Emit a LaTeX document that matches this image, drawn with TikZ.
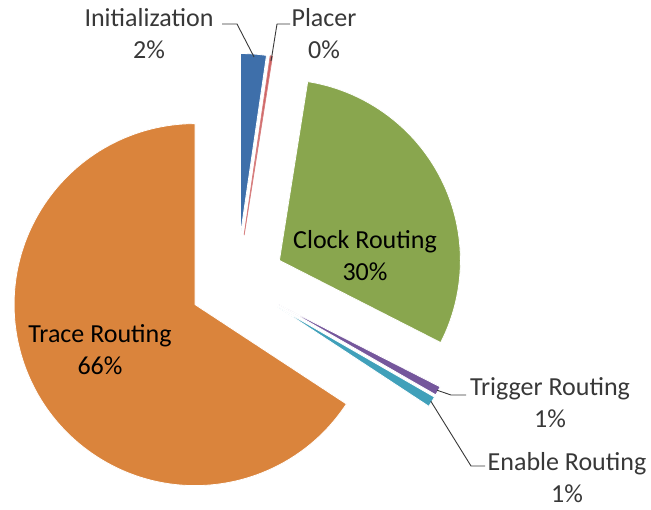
\documentclass[tikz,border=0pt]{standalone}
\usepackage{fontspec}
\setmainfont{Carlito}
\usetikzlibrary{calc}

\definecolor{initcol}{RGB}{62,111,170}
\definecolor{placecol}{RGB}{205,95,95}
\definecolor{clockcol}{RGB}{137,166,78}
\definecolor{trigcol}{RGB}{117,87,156}
\definecolor{enabcol}{RGB}{64,160,186}
\definecolor{tracecol}{RGB}{218,132,60}
\definecolor{labelgray}{RGB}{56,56,56}

\def\pieR{181pt}
\def\pieD{47.6pt}

% one exploded wedge: start fraction, end fraction (clockwise from 12 o'clock),
% fill colour, border colour, name of its apex
\newcommand\pieslice[5]{%
  \pgfmathsetmacro\sa{90-360*#1}%
  \pgfmathsetmacro\ea{90-360*#2}%
  \pgfmathsetmacro\ma{90-180*(#1+#2)}%
  \coordinate (#5) at ($(C)+(\ma:\pieD)$);
  \filldraw[fill=#3, draw=#4, line width=0.8pt, line join=round]
    (#5) -- ++(\sa:\pieR) arc[start angle=\sa, end angle=\ea, radius=\pieR] -- cycle;
}

\tikzset{
  pielabel/.style={align=center, font=\fontsize{26}{32}\selectfont, inner sep=0pt},
  outlabel/.style={pielabel, text=labelgray},
  leader/.style={draw=labelgray, line width=0.9pt, line join=round},
}

\begin{document}
\begin{tikzpicture}[x=1pt,y=1pt]
  \useasboundingbox (0,0) rectangle (651,-510);
  \coordinate (C) at (237,-282);

  % wedges
  \pieslice{0}{0.023}{initcol}{white}{ini}
  \pieslice{0.023}{0.025}{placecol}{placecol!80!white}{plc}
  \pieslice{0.025}{0.325}{clockcol}{white}{clk}
  \pieslice{0.325}{0.333}{trigcol}{white}{trg}
  \pieslice{0.333}{0.3425}{enabcol}{white}{enb}
  \pieslice{0.3425}{1}{tracecol}{white}{trc}

  % points where the leader lines touch the wedges
  \coordinate (initip) at ($(ini)+(85.6:178pt)$);
  \coordinate (plctip) at ($(plc)+(81.2:176pt)$);
  \coordinate (trgtip) at ($(trg)+(-28.4:180pt)$);
  \coordinate (enbtip) at ($(enb)+(-31.6:180pt)$);

  % labels
  \node[outlabel] (linit) at (149,-34) {Initialization\\2\%};
  \node[outlabel] (lplc) at (324,-34) {Placer\\0\%};
  \node[pielabel] (lclk) at (365,-256) {Clock Routing\\30\%};
  \node[pielabel] (ltrc) at (100,-350) {Trace Routing\\66\%};
  \node[outlabel] (ltrg) at (550,-403) {Trigger Routing\\1\%};
  \node[outlabel] (lenb) at (567,-478) {Enable Routing\\1\%};

  % leader lines
  \path[leader] (initip) -- (237,-24) -- (222,-24);
  \path[leader] (plctip) -- (277,-24) -- (290,-24);
  \path[leader] (trgtip) -- (451,-395) -- (466,-395);
  \path[leader] (enbtip) -- (471,-466) -- (485,-466);
\end{tikzpicture}
\end{document}
